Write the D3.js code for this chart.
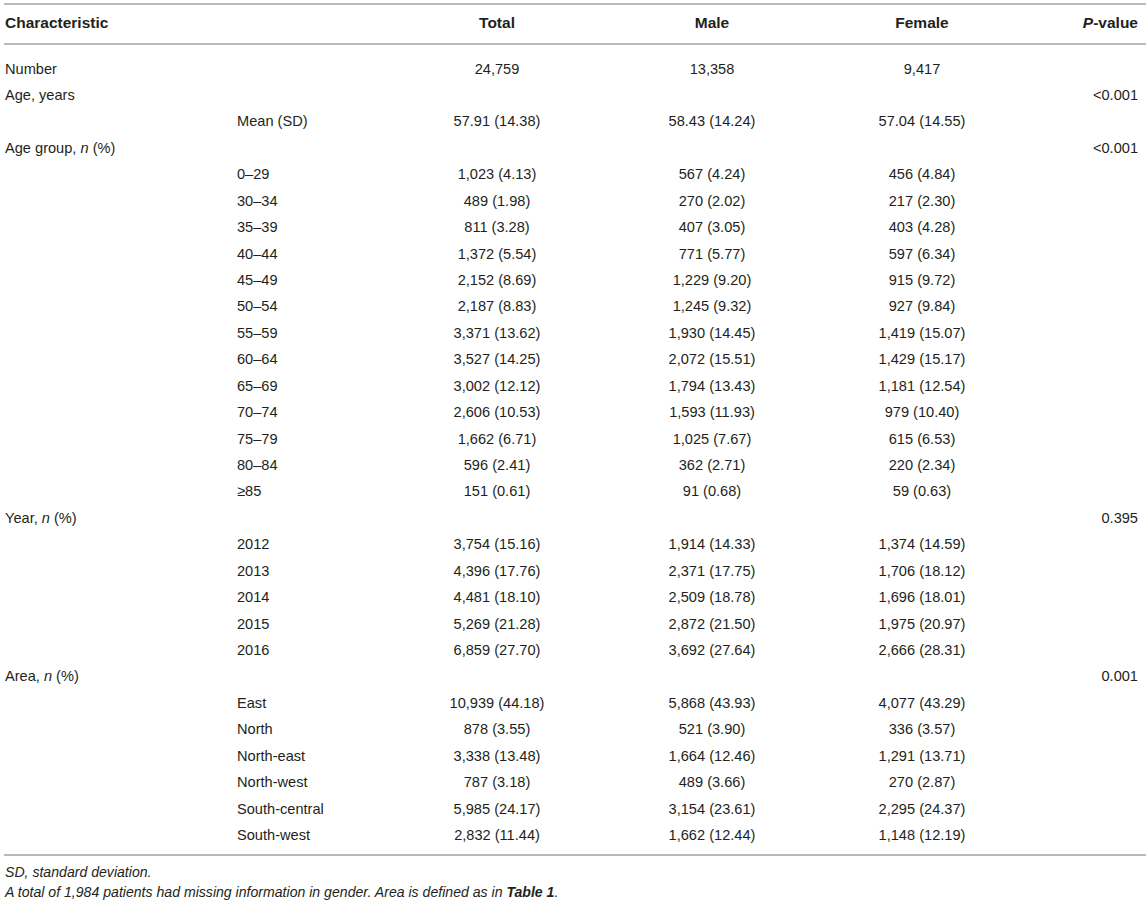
<!DOCTYPE html>
<html>
<head>
<meta charset="utf-8">
<script src="https://cdn.jsdelivr.net/npm/d3@7/dist/d3.min.js"></script>
<style>
  html, body { margin: 0; padding: 0; background: #fff; }
  svg text { font-family: "Liberation Sans", Arial, Helvetica, sans-serif; font-size: 14.6px; fill: #231f20; white-space: pre; }
</style>
</head>
<body>
<svg id="chart" width="1146" height="904"></svg>
<script>
// column headers
const headers = ["Characteristic", "Total", "Male", "Female", "P-value"]

// first column: section label (blank for sub rows)
const characteristic = [
  "Number", "Age, years", "", "Age group, n (%)",
  "", "", "", "", "", "", "", "", "", "", "", "", "",
  "Year, n (%)", "", "", "", "", "",
  "Area, n (%)", "", "", "", "", "", ""
]

// second column: sub rows
const subgroup = [
  "", "", "Mean (SD)", "",
  "0–29", "30–34", "35–39", "40–44", "45–49", "50–54", "55–59", "60–64", "65–69", "70–74", "75–79", "80–84", "≥85",
  "", "2012", "2013", "2014", "2015", "2016",
  "", "East", "North", "North-east", "North-west", "South-central", "South-west"
]

const totalVals = [
  "24,759", "", "57.91 (14.38)", "",
  "1,023 (4.13)", "489 (1.98)", "811 (3.28)", "1,372 (5.54)", "2,152 (8.69)", "2,187 (8.83)", "3,371 (13.62)",
  "3,527 (14.25)", "3,002 (12.12)", "2,606 (10.53)", "1,662 (6.71)", "596 (2.41)", "151 (0.61)",
  "", "3,754 (15.16)", "4,396 (17.76)", "4,481 (18.10)", "5,269 (21.28)", "6,859 (27.70)",
  "", "10,939 (44.18)", "878 (3.55)", "3,338 (13.48)", "787 (3.18)", "5,985 (24.17)", "2,832 (11.44)"
]

const maleVals = [
  "13,358", "", "58.43 (14.24)", "",
  "567 (4.24)", "270 (2.02)", "407 (3.05)", "771 (5.77)", "1,229 (9.20)", "1,245 (9.32)", "1,930 (14.45)",
  "2,072 (15.51)", "1,794 (13.43)", "1,593 (11.93)", "1,025 (7.67)", "362 (2.71)", "91 (0.68)",
  "", "1,914 (14.33)", "2,371 (17.75)", "2,509 (18.78)", "2,872 (21.50)", "3,692 (27.64)",
  "", "5,868 (43.93)", "521 (3.90)", "1,664 (12.46)", "489 (3.66)", "3,154 (23.61)", "1,662 (12.44)"
]

const femaleVals = [
  "9,417", "", "57.04 (14.55)", "",
  "456 (4.84)", "217 (2.30)", "403 (4.28)", "597 (6.34)", "915 (9.72)", "927 (9.84)", "1,419 (15.07)",
  "1,429 (15.17)", "1,181 (12.54)", "979 (10.40)", "615 (6.53)", "220 (2.34)", "59 (0.63)",
  "", "1,374 (14.59)", "1,706 (18.12)", "1,696 (18.01)", "1,975 (20.97)", "2,666 (28.31)",
  "", "4,077 (43.29)", "336 (3.57)", "1,291 (13.71)", "270 (2.87)", "2,295 (24.37)", "1,148 (12.19)"
]

const pVals = [
  "", "<0.001", "", "<0.001",
  "", "", "", "", "", "", "", "", "", "", "", "", "",
  "0.395", "", "", "", "", "",
  "0.001", "", "", "", "", "", ""
]

const footnotes = [
  "SD, standard deviation.",
  "A total of 1,984 patients had missing information in gender. Area is defined as in Table 1."
]

const W = 1146
const svg = d3.select("#chart")

const y = d3.scalePoint().domain(d3.range(characteristic.length)).range([73.5, 840])
const colX = d3.scaleOrdinal()
  .domain(["characteristic", "subgroup", "total", "male", "female", "p"])
  .range([5, 237, 497, 712, 922, 1138])

// write a label, italicising the "n" in "n (%)" and the "P" in "P-value"
const addLabel = (sel, s) => {
  let m = s.match(/^(.*, )n( \(%\))$/)
  if (m) {
    sel.append("tspan").text(m[1])
    sel.append("tspan").style("font-style", "italic").text("n")
    sel.append("tspan").text(m[2])
  } else if (s == "P-value") {
    sel.append("tspan").style("font-style", "italic").text("P")
    sel.append("tspan").text("-value")
  } else sel.text(s)
}

// rules
const rules = [4, 44, 855]
svg.selectAll("line.rule")
  .data(rules)
  .join("line")
  .attr("class", "rule")
  .attr("x1", 4).attr("x2", W)
  .attr("y1", d => d).attr("y2", d => d)
  .attr("stroke", "#a3a3a3")
  .attr("stroke-width", 1.5)

// header
const headKeys = ["characteristic", "total", "male", "female", "p"]
const headAnchor = ["start", "middle", "middle", "middle", "end"]
svg.append("g").selectAll("text")
  .data(headers)
  .join("text")
  .attr("x", (d, i) => colX(headKeys[i]))
  .attr("y", 28)
  .attr("text-anchor", (d, i) => headAnchor[i])
  .style("font-weight", "bold")
  .style("font-size", "15.5px")
  .each(function (d) { addLabel(d3.select(this), d) })

// body
const body = svg.append("g")
const cols = [
  {key: "characteristic", vals: characteristic, anchor: "start"},
  {key: "subgroup", vals: subgroup, anchor: "start"},
  {key: "total", vals: totalVals, anchor: "middle"},
  {key: "male", vals: maleVals, anchor: "middle"},
  {key: "female", vals: femaleVals, anchor: "middle"},
  {key: "p", vals: pVals, anchor: "end"}
]
cols.forEach(c => {
  body.append("g").selectAll("text")
    .data(c.vals.map((v, i) => ({v, i})).filter(d => d.v != ""))
    .join("text")
    .attr("x", colX(c.key))
    .attr("y", d => y(d.i))
    .attr("text-anchor", c.anchor)
    .each(function (d) { addLabel(d3.select(this), d.v) })
})

// footnotes
const foot = svg.append("g").style("font-style", "italic")
foot.append("text").attr("x", 5).attr("y", 877).style("font-size", "14.1px").text(footnotes[0])
const f2 = foot.append("text").attr("x", 5).attr("y", 897).style("font-size", "14.1px")
const parts = footnotes[1].split("Table 1")
f2.append("tspan").text(parts[0])
f2.append("tspan").style("font-weight", "bold").text("Table 1")
f2.append("tspan").text(parts[1])
</script>
</body>
</html>
